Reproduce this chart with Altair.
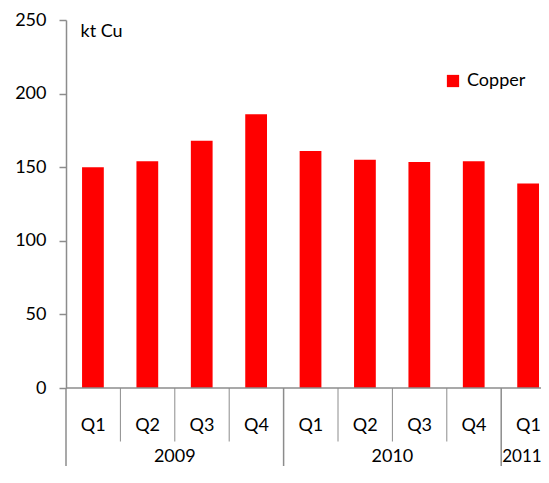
import altair as alt
import pandas as pd

# ---- data ----
years = ["2009", "2009", "2009", "2009", "2010", "2010", "2010", "2010", "2011"]
quarters = ["Q1", "Q2", "Q3", "Q4", "Q1", "Q2", "Q3", "Q4", "Q1"]
values = [150, 154, 168, 186, 161, 155, 153.5, 154, 139]
series_name = "Copper"
unit_label = "kt Cu"
y_ticks = [0, 50, 100, 150, 200, 250]

FONT = "Lato"
GREY = "#8c8c8c"
RED = "#ff0000"
LEFT = 58
SVG_W = 533
W, H = SVG_W - LEFT, 368
TOP = 12
SVG_H = 458
n = len(values)

bars_df = pd.DataFrame({
    "idx": list(range(n)),
    "year": years,
    "quarter": quarters,
    "value": values,
    "series": [series_name] * n,
})

sep_rows = []
for i in range(n + 1):
    is_year = i == 0 or i == n or years[i] != years[i - 1]
    sep_rows.append({"b": i, "kind": "year" if is_year else "quarter"})
sep_df = pd.DataFrame(sep_rows)

year_df = bars_df.groupby("year", as_index=False).agg(lo=("idx", "min"), hi=("idx", "max"))
year_df["mid"] = (year_df["lo"] + year_df["hi"] + 1) / 2
year_df["full"] = (year_df["hi"] - year_df["lo"] + 1) == 4

xs = alt.Scale(domain=[0, n], range=[0, 489.6], nice=False, zero=False)
ys = alt.Scale(domain=[0, 250], nice=False)

bars = alt.Chart(bars_df).transform_calculate(
    x0="datum.idx + 0.295", x1="datum.idx + 0.695"
).mark_bar().encode(
    x=alt.X("x0:Q", scale=xs, axis=None),
    x2="x1:Q",
    y=alt.Y("value:Q", scale=ys, axis=alt.Axis(
        values=y_ticks, grid=False, domainColor=GREY, domainWidth=1.5,
        tickColor=GREY, tickWidth=1.5, tickSize=7, labelPadding=13,
        labelFont=FONT, labelFontSize=18, labelColor="#000000",
        title=unit_label, titleAngle=0, titleX=14, titleY=11,
        titleAlign="left", titleBaseline="middle", titleFont=FONT,
        titleFontSize=18, titleFontWeight="normal", titleColor="#000000",
    )),
    y2=alt.datum(0),
    color=alt.Color("series:N", scale=alt.Scale(domain=[series_name], range=[RED]),
                    legend=alt.Legend(
                        title=None, orient="none", legendX=378, legendY=52,
                        symbolType="square", symbolSize=150, symbolStrokeWidth=0,
                        labelFont=FONT, labelFontSize=18, labelColor="#000000",
                        labelOffset=5, padding=0,
                    )),
)

baseline = alt.Chart(pd.DataFrame({"a": [0], "b": [n]})).mark_rule(
    color=GREY, strokeWidth=1.5
).encode(x=alt.X("a:Q", scale=xs, axis=None), x2="b:Q", y=alt.datum(0))

q_seps = alt.Chart(sep_df).transform_filter("datum.kind == 'quarter'").mark_rule(
    color=GREY, strokeWidth=1
).encode(x=alt.X("b:Q", scale=xs, axis=None), y=alt.value(H), y2=alt.value(H + 53.5))

y_seps = alt.Chart(sep_df).transform_filter("datum.kind == 'year'").mark_rule(
    color=GREY, strokeWidth=1.5
).encode(x=alt.X("b:Q", scale=xs, axis=None), y=alt.value(H), y2=alt.value(H + 120))

q_labels = alt.Chart(bars_df).transform_calculate(mid="datum.idx + 0.5").mark_text(
    font=FONT, fontSize=18, color="#000000", baseline="middle", align="center"
).encode(x=alt.X("mid:Q", scale=xs, axis=None), y=alt.value(H + 37.5), text="quarter:N")

y_labels_full = alt.Chart(year_df).transform_filter("datum.full").mark_text(
    font=FONT, fontSize=18, color="#000000", baseline="middle", align="center"
).encode(x=alt.X("mid:Q", scale=xs, axis=None), y=alt.value(H + 69), text="year:N")

y_labels_part = alt.Chart(year_df).transform_filter("!datum.full").mark_text(
    font=FONT, fontSize=17, color="#000000", baseline="middle", align="left", dx=1
).encode(x=alt.X("lo:Q", scale=xs, axis=None), y=alt.value(H + 69), text="year:N")

chart = alt.layer(bars, baseline, q_seps, y_seps, q_labels,
                  y_labels_full, y_labels_part).properties(
    width=W, height=H,
    autosize=alt.AutoSizeParams(type="none"),
    padding={"left": LEFT, "top": TOP, "right": 0, "bottom": SVG_H - TOP - H},
    background="#ffffff",
).configure_view(stroke=None)

chart.save("out.html", embed_options={"renderer": "svg", "actions": False})
